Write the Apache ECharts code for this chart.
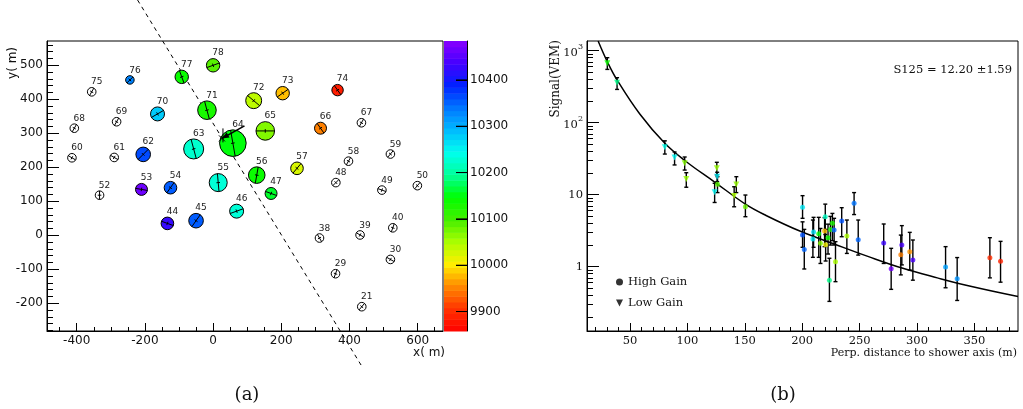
<!DOCTYPE html>
<html><head><meta charset="utf-8">
<script src="https://cdn.jsdelivr.net/npm/echarts@6/dist/echarts.min.js"></script>
<style>html,body{margin:0;padding:0;background:#fff}#c{width:1023px;height:409px}</style>
</head><body><div id="c"></div>
<script>
// ---------- Panel (a): station map ----------
const stId     = [76, 77, 78, 70, 71, 72, 73, 74, 62, 63, 64, 65, 66, 57, 56, 55, 54, 53, 47, 46, 45, 44];
const stX      = [-244, -92, 0, -163, -18, 119, 204, 365, -205, -57, 58, 153, 315, 246, 128, 15, -125, -210, 170, 69, -50, -134];
const stY      = [457, 466, 500, 357, 368, 396, 418, 427, 238, 254, 271, 307, 315, 197, 177, 155, 140, 135, 123, 71, 43, 35];
const stTime   = [10330, 10140, 10090, 10280, 10130, 10040, 9980, 9885, 10365, 10225, 10150, 10070, 9950, 10025, 10140, 10230, 10355, 10465, 10160, 10230, 10355, 10425];
const stSignal = [1.2, 6.6, 6.6, 8.1, 40, 16, 6.6, 3.3, 10, 66, 660, 40, 4, 5, 20, 33, 5, 4, 4, 8, 10, 5];
const stAngle  = [45, -70, 20, 30, -75, -40, 35, -55, 45, -75, -80, 0, -55, 50, 80, -85, 55, -10, -20, 20, 55, -20];

const offId    = [75, 68, 69, 60, 61, 52, 67, 58, 59, 48, 49, 50, 38, 39, 40, 30, 29, 21];
const offX     = [-356, -407, -283, -414, -290, -333, 435, 397, 520, 360, 495, 599, 312, 431, 527, 520, 359, 436];
const offY     = [422, 315, 334, 228, 229, 118, 331, 218, 239, 155, 133, 146, -8, 1, 22, -71, -113, -210];
const offAngle = [60, 60, 60, -30, -30, 90, 60, 60, 50, 45, -20, 50, -60, -30, 70, -30, 70, 50];

const showerTrace = [-221.5, 692, 437.8, -388];
const coreXY  = [26, 285];
const arrowXY = [92, 322];

const mapXTicks = [-400, -200, 0, 200, 400, 600];
const mapYTicks = [-200, -100, 0, 100, 200, 300, 400, 500];
const cbTicks   = [9900, 10000, 10100, 10200, 10300, 10400];

// ---------- Panel (b): lateral distribution ----------
const lgDist   = [30.2, 38.7, 80.3, 88.8, 97.6, 99.0, 123.7, 125.6, 125.9, 140.7, 142.6];
const lgSignal = [668, 360, 45.5, 33, 27.3, 16.5, 10.8, 23.3, 17.8, 9.6, 13.9];
const lgLow    = [550, 290, 36.7, 25.9, 22, 12.7, 7.8, 18.8, 15.2, 6.8, 10.7];
const lgHigh   = [800, 422, 56, 39.2, 33.4, 20.2, 14.4, 28.2, 20.5, 12.9, 17.8];
const lgTime   = [10140, 10190, 10240, 10250, 10070, 10060, 10250, 10060, 10260, 10050, 10060];

const hgDist   = [126.2, 150.5, 200.3, 200.3, 201.8, 209.9, 209.3, 214.4, 215.9, 220.1, 219.5, 220.4, 222.5, 223.7, 224.6, 226.3, 227.8, 229.0, 234.4, 238.9, 245.2, 248.8, 271.0, 277.5, 285.9, 286.8, 293.7, 296.4, 324.9, 335.0, 363.5, 372.8];
const hgSignal = [14, 6.8, 6.7, 2.75, 1.74, 3.03, 2.43, 2.88, 2.11, 4.95, 3.13, 2.02, 2.53, 0.65, 3.3, 4.0, 3.23, 1.17, 4.31, 2.67, 7.6, 2.37, 2.13, 0.94, 1.47, 2.0, 1.61, 1.24, 0.99, 0.68, 1.33, 1.19];
const hgLow    = [10.7, 4.95, 4.7, 1.86, 0.93, 1.86, 1.35, 1.35, 1.11, 2.8, 1.9, 1.2, 1.5, 0.33, 2.0, 2.3, 2.0, 0.62, 2.61, 1.53, 5.3, 1.45, 1.11, 0.485, 0.77, 1.06, 0.90, 0.65, 0.51, 0.34, 0.70, 0.61];
const hgHigh   = [17.8, 9.9, 9.7, 4.2, 3.3, 4.85, 4.45, 4.85, 3.4, 7.4, 4.8, 3.3, 3.9, 1.31, 5.0, 5.5, 4.7, 2.23, 6.6, 4.45, 10.7, 4.45, 3.92, 1.80, 2.75, 3.72, 3.0, 2.35, 1.9, 1.34, 2.53, 2.25];
const hgTime   = [10090, 10080, 10260, 10360, 10350, 10270, 10260, 10150, 10070, 10220, 9980, 10010, 10140, 10190, 10130, 10130, 10350, 10050, 10360, 10050, 10340, 10350, 10430, 10470, 9950, 10440, 9960, 10440, 10310, 10320, 9900, 9890];

const fitDist   = [22.2, 30.2, 38.7, 58.5, 80.3, 98.2, 123.7, 150.5, 168.5, 197.9, 227.8, 257.8, 287.7, 317.7, 347.6, 388];
const fitSignal = [1364, 703, 392, 132, 51.7, 29.4, 15.0, 7.4, 5.15, 3.13, 2.07, 1.38, 0.95, 0.70, 0.53, 0.385];

const ldfXTicks = [50, 100, 150, 200, 250, 300, 350];
const ldfYTicks = [1, 10, 100, 1000];

// ---------- helpers ----------
const SANS = 'DejaVu Sans', SERIF = 'DejaVu Serif';
const paletteColors = ['#ff0000','#ff3300','#ff8800','#ffee00','#aaff00','#44ee00','#00ff00','#00ff99','#00ffee','#00bbff','#0077ff','#0022ff','#4400ff','#8800ff'];
const tMin = 9858, tMax = 10484;
const CB_BANDS = 50;

function minorValues(lo, hi, step, majors) {
  const out = [];
  for (let v = Math.ceil(lo / step) * step; v <= hi; v += step) {
    if (!majors.some(m => Math.abs(m - v) < 1e-9)) out.push(v);
  }
  return out;
}
function logMinors(lo, hi) {
  const out = [];
  for (let e = -1; e <= 3; e++) for (let k = 2; k <= 9; k++) {
    const v = k * Math.pow(10, e);
    if (v > lo && v < hi) out.push(+v.toPrecision(3));
  }
  return out;
}

const mapXR = [-487.1, 674.2], mapYR = [-281.5, 571.5];
const ldfXR = [12.5, 388], ldfYR = [0.128, 1364];

const stationsOn  = stId.map((id, i) => [stX[i], stY[i], stTime[i], stSignal[i], stAngle[i], id]);
const stationsOff = offId.map((id, i) => [offX[i], offY[i], 0, 0, offAngle[i], id]);

// colour-scale key: one band per palette level across the colour axis
const bandStep = (tMax - tMin) / CB_BANDS;
const cbBands = [];
for (let i = 0; i < CB_BANDS; i++) {
  const c = tMin + (i + 0.5) * bandStep;
  cbBands.push([0, c, c]);
}

function stationRender(filled) {
  return function (params, api) {
    const p = api.coord([api.value(0), api.value(1)]);
    const r = filled ? 4 + 3.3 * Math.log10(api.value(3)) : 4.3;
    const a = api.value(4) * Math.PI / 180;
    const dx = r * Math.cos(a), dy = -r * Math.sin(a);
    const tx = 1.8 * Math.sin(a), ty = 1.8 * Math.cos(a);
    const fill = filled ? api.visual('color') : '#ffffff';
    return {
      type: 'group',
      children: [
        { type: 'circle', shape: { cx: p[0], cy: p[1], r: r }, style: { fill: fill, stroke: '#000', lineWidth: 1 } },
        { type: 'line', shape: { x1: p[0] - dx, y1: p[1] - dy, x2: p[0] + dx, y2: p[1] + dy }, style: { stroke: '#000', lineWidth: 1 } },
        { type: 'line', shape: { x1: p[0] - tx, y1: p[1] - ty, x2: p[0] + tx, y2: p[1] + ty }, style: { stroke: '#000', lineWidth: 1 } },
        { type: 'text', style: { text: String(api.value(5)), x: p[0] + 5, y: p[1] - r - 1, align: 'center', verticalAlign: 'bottom', textAlign: 'center', textVerticalAlign: 'bottom', font: '9px ' + SANS, fill: '#222' } }
      ]
    };
  };
}

const errData = lgDist.map((d, i) => [d, lgLow[i], lgHigh[i]]).concat(hgDist.map((d, i) => [d, hgLow[i], hgHigh[i]]));

const chart = echarts.init(document.getElementById('c'), null, { renderer: 'canvas' });

function supLabel(v) {
  const k = Math.round(Math.log10(v));
  if (Math.abs(Math.log10(v) - k) > 1e-6) return '';
  if (k === 0) return '1';
  if (k === 1) return '10';
  return '{b|10}{s|' + k + '}';
}

const LINE_ON  = { show: true,  onZero: false, lineStyle: { color: '#000', width: 1 } };
const LINE_OFF = { show: false, onZero: false };

function axis(extra) {
  return Object.assign({ splitLine: { show: false }, axisLine: LINE_ON }, extra);
}

chart.setOption({
  animation: false,
  backgroundColor: '#fff',
  grid: [
    { left: 47, top: 41, width: 396, height: 290, show: true, borderColor: '#000', borderWidth: 1, backgroundColor: 'transparent' },
    { left: 444, top: 41, width: 23, height: 290, show: false },
    { left: 587, top: 41, width: 431, height: 290, show: true, borderColor: '#000', borderWidth: 1, backgroundColor: 'transparent' }
  ],
  xAxis: [
    axis({ gridIndex: 0, type: 'value', position: 'bottom', min: mapXR[0], max: mapXR[1],
      axisTick: { inside: true, length: 8, customValues: mapXTicks, lineStyle: { color: '#000' } },
      axisLabel: { customValues: mapXTicks, margin: 4, color: '#111', fontFamily: SANS, fontSize: 12 } }),
    axis({ gridIndex: 0, type: 'value', position: 'bottom', min: mapXR[0], max: mapXR[1],
      axisLine: LINE_OFF, axisLabel: { show: false },
      axisTick: { inside: true, length: 4, customValues: minorValues(mapXR[0], mapXR[1], 50, mapXTicks), lineStyle: { color: '#000' } } }),
    { gridIndex: 1, type: 'value', show: false, min: 0, max: 1 },
    axis({ gridIndex: 2, type: 'value', position: 'bottom', min: ldfXR[0], max: ldfXR[1],
      axisTick: { inside: true, length: 8, customValues: ldfXTicks, lineStyle: { color: '#000' } },
      axisLabel: { customValues: ldfXTicks, margin: 4, color: '#111', fontFamily: SERIF, fontSize: 11.5 } }),
    axis({ gridIndex: 2, type: 'value', position: 'bottom', min: ldfXR[0], max: ldfXR[1],
      axisLine: LINE_OFF, axisLabel: { show: false },
      axisTick: { inside: true, length: 4, customValues: minorValues(ldfXR[0], ldfXR[1], 10, ldfXTicks), lineStyle: { color: '#000' } } })
  ],
  yAxis: [
    axis({ gridIndex: 0, type: 'value', position: 'left', min: mapYR[0], max: mapYR[1],
      axisTick: { inside: true, length: 12, customValues: mapYTicks, lineStyle: { color: '#000' } },
      axisLabel: { customValues: mapYTicks, margin: 4, color: '#111', fontFamily: SANS, fontSize: 12 } }),
    axis({ gridIndex: 0, type: 'value', position: 'left', min: mapYR[0], max: mapYR[1],
      axisLine: LINE_OFF, axisLabel: { show: false },
      axisTick: { inside: true, length: 6, customValues: minorValues(mapYR[0], mapYR[1], 20, mapYTicks), lineStyle: { color: '#000' } } }),
    axis({ gridIndex: 1, type: 'value', position: 'right', min: tMin, max: tMax, z: 10,
      axisTick: { inside: true, length: 11, customValues: cbTicks, lineStyle: { color: '#000' } },
      axisLabel: { customValues: cbTicks, margin: 3, color: '#111', fontFamily: SANS, fontSize: 12, formatter: v => String(v) } }),
    axis({ gridIndex: 2, type: 'log', logBase: 10, position: 'left', min: ldfYR[0], max: ldfYR[1],
      axisTick: { inside: true, length: 12, customValues: ldfYTicks, lineStyle: { color: '#000' } },
      axisLabel: { customValues: ldfYTicks, margin: 4, color: '#111', fontFamily: SERIF, fontSize: 11.5,
        formatter: supLabel,
        rich: { b: { fontFamily: SERIF, fontSize: 11.5, color: '#111', lineHeight: 16, verticalAlign: 'bottom' },
                s: { fontFamily: SERIF, fontSize: 8, color: '#111', lineHeight: 16, verticalAlign: 'top' } } } }),
    axis({ gridIndex: 2, type: 'log', logBase: 10, position: 'left', min: ldfYR[0], max: ldfYR[1],
      axisLine: LINE_OFF, axisLabel: { show: false },
      axisTick: { inside: true, length: 6, customValues: logMinors(ldfYR[0], ldfYR[1]), lineStyle: { color: '#000' } } })
  ],
  visualMap: [{
    type: 'continuous', show: false, min: tMin, max: tMax, dimension: 2, seriesIndex: [2, 6, 7, 8],
    inRange: { color: paletteColors }
  }],
  legend: {
    orient: 'vertical', left: 616, top: 275, padding: 0, itemGap: 7, itemWidth: 7, itemHeight: 7,
    textStyle: { fontFamily: SERIF, fontSize: 11.5, color: '#111', lineHeight: 14 },
    data: [
      { name: 'High Gain', icon: 'circle', itemStyle: { color: '#000' } },
      { name: 'Low Gain', icon: 'path://M0,0L10,0L5,10Z', itemStyle: { color: '#000' } }
    ],
    selectedMode: false
  },
  graphic: [
    { type: 'text', x: 13, y: 47, rotation: Math.PI / 2, style: { text: 'y( m)', font: '12px ' + SANS, fill: '#111', align: 'right', verticalAlign: 'middle', textAlign: 'right', textVerticalAlign: 'middle' } },
    { type: 'text', x: 445, y: 353, style: { text: 'x( m)', font: '12px ' + SANS, fill: '#111', align: 'right', verticalAlign: 'middle', textAlign: 'right', textVerticalAlign: 'middle' } },
    { type: 'text', x: 556, y: 40, rotation: Math.PI / 2, style: { text: 'Signal(VEM)', font: '12px ' + SERIF, fill: '#111', align: 'right', verticalAlign: 'middle', textAlign: 'right', textVerticalAlign: 'middle' } },
    { type: 'text', x: 1017, y: 353, style: { text: 'Perp. distance to shower axis (m)', font: '11px ' + SERIF, fill: '#111', align: 'right', verticalAlign: 'middle', textAlign: 'right', textVerticalAlign: 'middle' } },
    { type: 'text', x: 1012, y: 70, style: { text: 'S125 = 12.20 \u00b11.59', font: '11.5px ' + SERIF, fill: '#111', align: 'right', verticalAlign: 'middle', textAlign: 'right', textVerticalAlign: 'middle' } },
    { type: 'text', x: 247, y: 395, style: { text: '(a)', font: '18px ' + SERIF, fill: '#111', align: 'center', verticalAlign: 'middle', textAlign: 'center', textVerticalAlign: 'middle' } },
    { type: 'text', x: 783, y: 395, style: { text: '(b)', font: '18px ' + SERIF, fill: '#111', align: 'center', verticalAlign: 'middle', textAlign: 'center', textVerticalAlign: 'middle' } }
  ],
  series: [
    { // 0 shower axis projection
      type: 'custom', xAxisIndex: 0, yAxisIndex: 0, clip: false, silent: true, z: 1,
      data: [showerTrace],
      renderItem: function (params, api) {
        const a = api.coord([api.value(0), api.value(1)]);
        const b = api.coord([api.value(2), api.value(3)]);
        return { type: 'line', shape: { x1: a[0], y1: a[1], x2: b[0], y2: b[1] }, style: { stroke: '#000', lineWidth: 1, lineDash: [4, 4] } };
      }
    },
    { // 1 silent stations
      type: 'custom', xAxisIndex: 0, yAxisIndex: 0, clip: false, silent: true, z: 2,
      data: stationsOff, renderItem: stationRender(false)
    },
    { // 2 triggered stations
      type: 'custom', xAxisIndex: 0, yAxisIndex: 0, clip: false, silent: true, z: 3,
      data: stationsOn, renderItem: stationRender(true)
    },
    { // 3 core and arrow
      type: 'custom', xAxisIndex: 0, yAxisIndex: 0, clip: false, silent: true, z: 4,
      data: [[coreXY[0], coreXY[1], arrowXY[0], arrowXY[1]]],
      renderItem: function (params, api) {
        const c = api.coord([api.value(0), api.value(1)]);
        const e = api.coord([api.value(2), api.value(3)]);
        const ang = Math.atan2(e[1] - c[1], e[0] - c[0]);
        const hx = Math.cos(ang), hy = Math.sin(ang);
        const L = 7, W = 3;
        const b0 = [c[0] + hx * L, c[1] + hy * L];
        return { type: 'group', children: [
          { type: 'line', shape: { x1: c[0], y1: c[1], x2: e[0], y2: e[1] }, style: { stroke: '#000', lineWidth: 1.6 } },
          { type: 'polygon', shape: { points: [c, [b0[0] - hy * W, b0[1] + hx * W], [b0[0] + hy * W, b0[1] - hx * W]] }, style: { fill: '#000' } },
          { type: 'line', shape: { x1: c[0] - 3, y1: c[1] - 3, x2: c[0] + 3, y2: c[1] + 3 }, style: { stroke: '#000', lineWidth: 1 } },
          { type: 'line', shape: { x1: c[0] - 3, y1: c[1] + 3, x2: c[0] + 3, y2: c[1] - 3 }, style: { stroke: '#000', lineWidth: 1 } },
          { type: 'line', shape: { x1: c[0] + 1, y1: c[1] - 10, x2: c[0] + 1, y2: c[1] + 4 }, style: { stroke: '#000', lineWidth: 1 } }
        ] };
      }
    },
    { // 4 error bars
      type: 'custom', xAxisIndex: 3, yAxisIndex: 3, silent: true, z: 2,
      data: errData,
      renderItem: function (params, api) {
        const lo = api.coord([api.value(0), api.value(1)]);
        const hi = api.coord([api.value(0), api.value(2)]);
        const st = { stroke: '#000', lineWidth: 1.4 };
        return { type: 'group', children: [
          { type: 'line', shape: { x1: lo[0], y1: lo[1], x2: hi[0], y2: hi[1] }, style: st },
          { type: 'line', shape: { x1: lo[0] - 2, y1: lo[1], x2: lo[0] + 2, y2: lo[1] }, style: st },
          { type: 'line', shape: { x1: hi[0] - 2, y1: hi[1], x2: hi[0] + 2, y2: hi[1] }, style: st }
        ] };
      }
    },
    { // 5 LDF fit
      type: 'line', xAxisIndex: 3, yAxisIndex: 3, smooth: 0.4, symbol: 'none', silent: true, z: 3,
      lineStyle: { color: '#000', width: 1.5 },
      data: fitDist.map((d, i) => [d, fitSignal[i]])
    },
    { // 6 high gain
      name: 'High Gain', type: 'scatter', xAxisIndex: 3, yAxisIndex: 3, symbol: 'circle', symbolSize: 5, z: 4,
      itemStyle: { color: '#000' },
      data: hgDist.map((d, i) => [d, hgSignal[i], hgTime[i]])
    },
    { // 7 low gain
      name: 'Low Gain', type: 'scatter', xAxisIndex: 3, yAxisIndex: 3, symbol: 'path://M0,0L10,0L5,10Z', symbolSize: 6, z: 4,
      itemStyle: { color: '#000' },
      data: lgDist.map((d, i) => [d, lgSignal[i], lgTime[i]])
    },
    { // 8 colour bar bands
      type: 'custom', xAxisIndex: 2, yAxisIndex: 2, silent: true, z: 1,
      data: cbBands,
      renderItem: function (params, api) {
        const v = api.value(1);
        const top = api.coord([0, v + bandStep / 2]);
        const bot = api.coord([1, v - bandStep / 2]);
        return { type: 'rect', shape: { x: top[0], y: top[1], width: bot[0] - top[0], height: bot[1] - top[1] + 0.5 }, style: { fill: api.visual('color') } };
      }
    },
    { // 9 colour bar tick marks
      type: 'custom', xAxisIndex: 2, yAxisIndex: 2, silent: true, z: 10,
      data: cbTicks.map(v => [1, v]),
      renderItem: function (params, api) {
        const p = api.coord([api.value(0), api.value(1)]);
        return { type: 'line', shape: { x1: p[0] - 11, y1: p[1], x2: p[0], y2: p[1] }, style: { stroke: '#000', lineWidth: 1 } };
      }
    }
  ]
});
</script>
</body></html>
